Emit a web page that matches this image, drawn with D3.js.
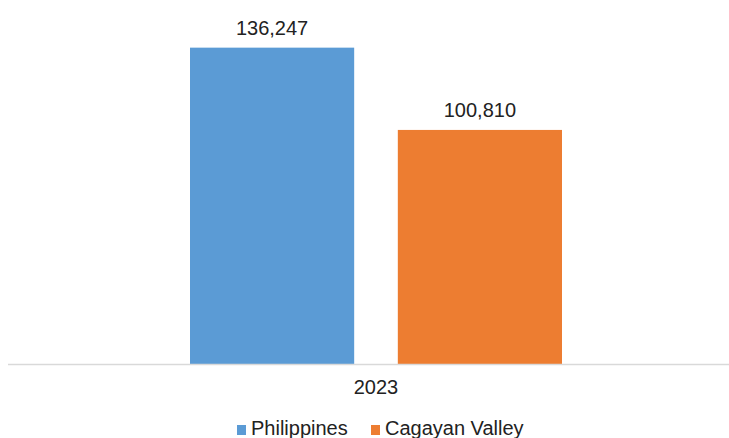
<!DOCTYPE html>
<html>
<head>
<meta charset="utf-8">
<script src="https://cdn.jsdelivr.net/npm/d3@7"></script>
<style>
  body { margin: 0; background: #fff; }
  svg { display: block; font-family: "Liberation Sans", Arial, sans-serif; }
</style>
</head>
<body>
<div id="chart"></div>
<script>
const categories = ["2023"];
const seriesNames = ["Philippines", "Cagayan Valley"];
const philippines = [136247];
const cagayanValley = [100810];
const colors = ["#5B9BD5", "#ED7D31"];

const width = 729, height = 438;
const baseline = 364;

const svg = d3.select("#chart").append("svg")
  .attr("width", width)
  .attr("height", height);

const rows = categories.map((c, i) => ({
  category: c,
  values: [philippines[i], cagayanValley[i]]
}));

// x: category band, then series inside it
const x0 = d3.scaleBand().domain(categories).range([7, 745]);
const x1 = d3.scaleBand().domain(seriesNames)
  .range([x0.bandwidth() / 2 - 186, x0.bandwidth() / 2 + 186])
  .paddingInner(0.21);

// y: hidden value axis, 0 to 160000
const y = d3.scaleLinear().domain([0, 160000]).range([baseline, baseline - 371.5]);

const groups = svg.selectAll("g.cat")
  .data(rows)
  .join("g")
  .attr("class", "cat")
  .attr("transform", d => `translate(${x0(d.category)},0)`);

const bars = groups.selectAll("g.bar")
  .data(d => d.values.map((v, j) => ({ name: seriesNames[j], value: v, color: colors[j] })))
  .join("g")
  .attr("class", "bar");

bars.append("rect")
  .attr("x", d => x1(d.name))
  .attr("y", d => y(d.value))
  .attr("width", x1.bandwidth())
  .attr("height", d => y(0) - y(d.value))
  .attr("fill", d => d.color);

bars.append("text")
  .attr("x", d => x1(d.name) + x1.bandwidth() / 2)
  .attr("y", d => y(d.value) - 13)
  .attr("text-anchor", "middle")
  .attr("font-size", 20)
  .attr("fill", "#222")
  .text(d => d3.format(",")(d.value));

// category axis line
svg.append("line")
  .attr("x1", 8).attr("x2", width)
  .attr("y1", baseline + 0.5).attr("y2", baseline + 0.5)
  .attr("stroke", "#d9d9d9")
  .attr("stroke-width", 1.5);

svg.selectAll("text.cat-label")
  .data(categories)
  .join("text")
  .attr("class", "cat-label")
  .attr("x", d => x0(d) + x0.bandwidth() / 2)
  .attr("y", 394)
  .attr("text-anchor", "middle")
  .attr("font-size", 20)
  .attr("fill", "#222")
  .text(d => d);

// legend
const legendX = [237, 371];
const legend = svg.selectAll("g.legend")
  .data(seriesNames)
  .join("g")
  .attr("class", "legend")
  .attr("transform", (d, i) => `translate(${legendX[i]},425)`);

legend.append("rect")
  .attr("width", 9).attr("height", 10)
  .attr("fill", (d, i) => colors[i]);

legend.append("text")
  .attr("x", 14)
  .attr("y", 10)
  .attr("font-size", 20)
  .attr("fill", "#222")
  .text(d => d);
</script>
</body>
</html>
